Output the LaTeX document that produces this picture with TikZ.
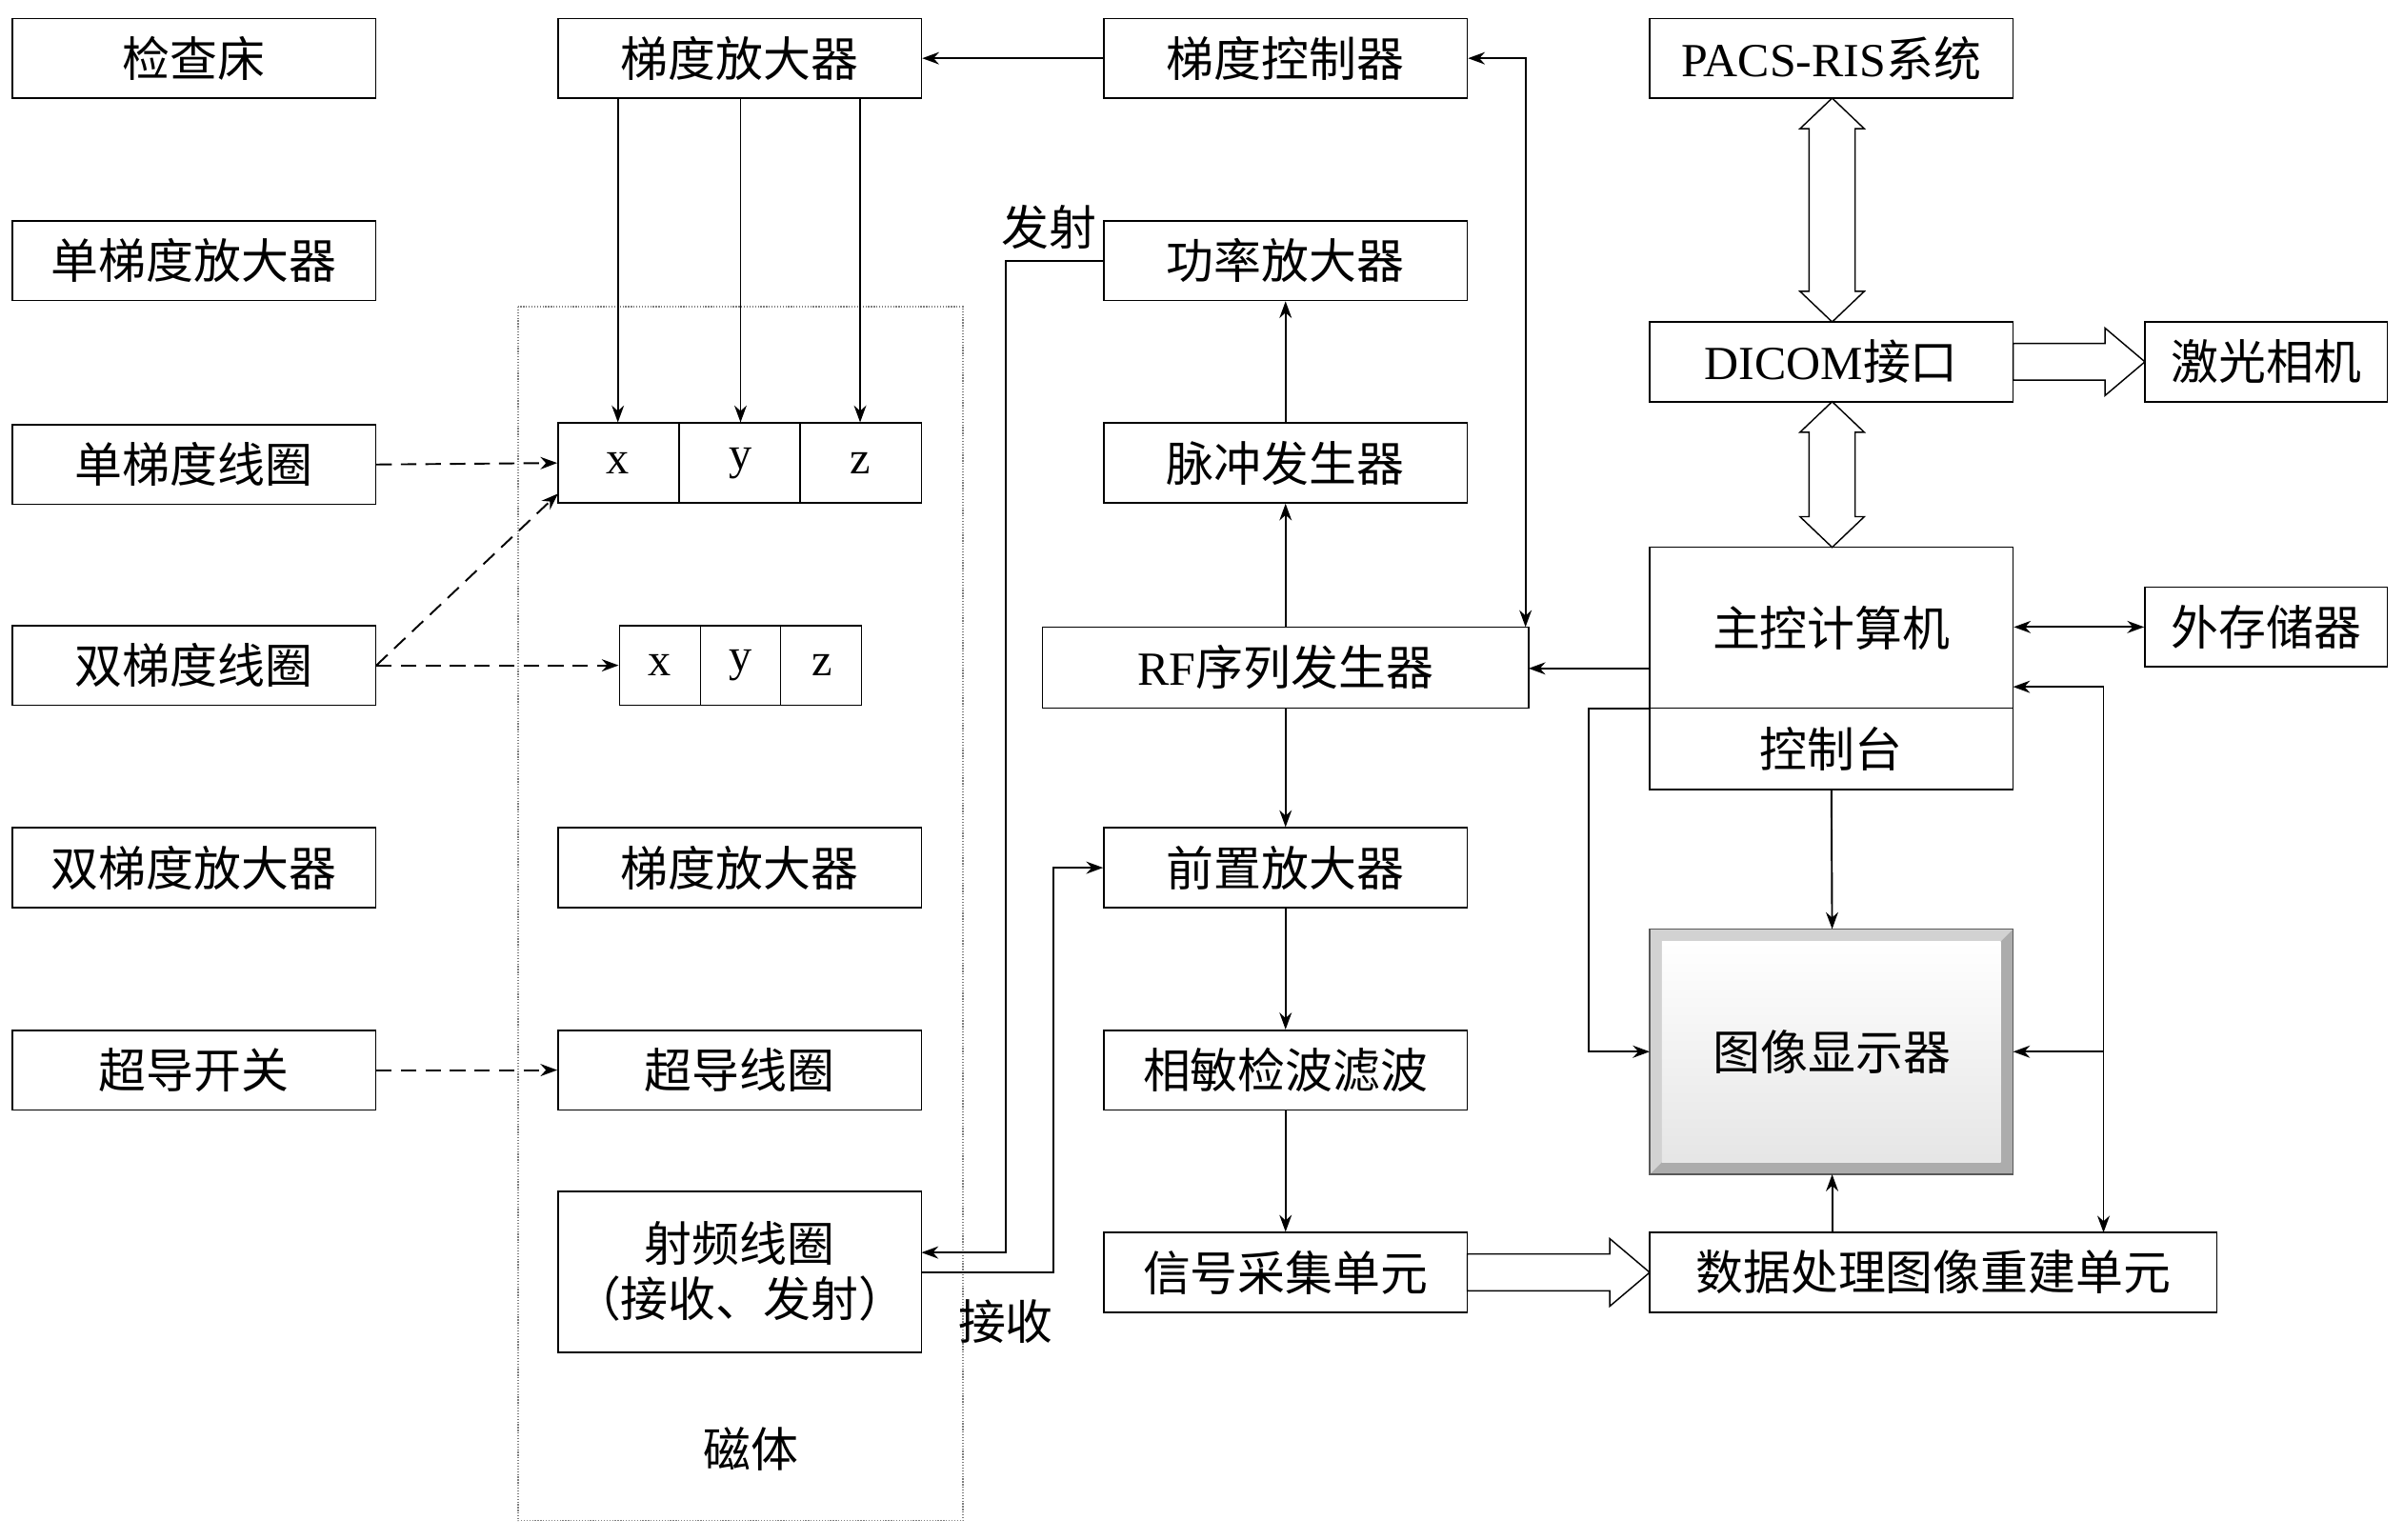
\documentclass[tikz,border=0pt]{standalone}
\usepackage{fontspec}
\setmainfont{Liberation Serif}
\newfontfamily\cjk{Noto Sans CJK SC}
\usetikzlibrary{arrows.meta,calc}
\begin{document}
\begin{tikzpicture}[x=1pt,y=-1pt,
  bx/.style={draw,line width=1pt,inner sep=0pt,font=\fontsize{31}{36}\selectfont\cjk},
  ar/.style={line width=1.2pt,-{Stealth[length=11pt,width=8pt]}},
  dar/.style={ar,dashed,dash pattern=on 10pt off 6pt},
  hol/.style={draw,line width=0.9pt,fill=white}]
\useasboundingbox (0,0) rectangle (1568,1004);
\newcommand{\B}[6]{\node[bx,minimum width=#4-#2,minimum height=#5-#3] (#1) at ({(#2+#4)/2},{(#3+#5)/2}) {#6};}
% left column
\B{jcc}{8}{12}{245}{64}{检查床}
\B{dtf}{8}{144}{245}{196}{单梯度放大器}
\B{dtx}{8}{277}{245}{329}{单梯度线圈}
\B{stx}{8}{408}{245}{460}{双梯度线圈}
\B{stf}{8}{540}{245}{592}{双梯度放大器}
\B{cdk}{8}{672}{245}{724}{超导开关}
% magnet box
\draw[gray,densely dotted,line width=0.8pt] (338,200) rectangle (628,992);
\node[font=\fontsize{31}{36}\selectfont\cjk] (ct) at (490,945) {磁体};
% column 2
\B{tdf}{364}{12}{601}{64}{梯度放大器}
\B{xyz}{364}{276}{601}{328}{}
\draw[line width=1pt] (443,276)--(443,328) (522,276)--(522,328);
\node[font=\fontsize{30}{34}\selectfont] (x1) at (403,302) {x};
\node[font=\fontsize{30}{34}\selectfont] (y1) at (483,302) {y};
\node[font=\fontsize{30}{34}\selectfont] (z1) at (561,302) {z};
\B{xyzb}{404}{408}{562}{460}{}
\draw[line width=1pt] (457,408)--(457,460) (509,408)--(509,460);
\node[font=\fontsize{30}{34}\selectfont] (x2) at (430,434) {x};
\node[font=\fontsize{30}{34}\selectfont] (y2) at (483,434) {y};
\node[font=\fontsize{30}{34}\selectfont] (z2) at (536,434) {z};
\B{tdf2}{364}{540}{601}{592}{梯度放大器}
\B{cdxq}{364}{672}{601}{724}{超导线圈}
\node[bx,minimum width=237,minimum height=105,align=center] (spxq) at (482.5,829.5) {射频线圈\\（接收、发射）};
% column 3
\B{tdk}{720}{12}{957}{64}{梯度控制器}
\B{glf}{720}{144}{957}{196}{功率放大器}
\B{mcf}{720}{276}{957}{328}{脉冲发生器}
\B{rf}{680}{409}{997}{462}{{\rmfamily RF}序列发生器}
\B{qzf}{720}{540}{957}{592}{前置放大器}
\B{xmj}{720}{672}{957}{724}{相敏检波滤波}
\B{xhc}{720}{804}{957}{856}{信号采集单元}
% column 4
\B{pacs}{1076}{12}{1313}{64}{{\rmfamily PACS-RIS}系统}
\B{dicom}{1076}{210}{1313}{262}{{\rmfamily DICOM}接口}
\B{jgxj}{1399}{210}{1557}{262}{激光相机}
\B{zk}{1076}{357}{1313}{462}{主控计算机}
\B{kzt}{1076}{462}{1313}{515}{控制台}
\B{wcc}{1399}{383}{1557}{435}{外存储器}
\B{sjcl}{1076}{804}{1446}{856}{数据处理图像重建单元}
% image display 3D
\fill[gray!65] (1076,606) rectangle (1313,766);
\fill[gray!35] (1076,606) -- (1313,606) -- (1305,614) -- (1084,614) -- (1084,758) -- (1076,766) -- cycle;
\shade[top color=white,bottom color=gray!20] (1084,614) rectangle (1305,758);
\draw[line width=0.8pt,gray!70!black] (1076,606) rectangle (1313,766);
\node[font=\fontsize{31}{36}\selectfont\cjk] (tx) at (1195,686) {图像显示器};
\coordinate (txl) at (1076,686); \coordinate (txr) at (1313,686);
\coordinate (txt) at (1195,606); \coordinate (txb) at (1195,766);
% arrows
\draw[ar] (tdk.west) -- (tdf.east);
\draw[ar] (tdf.south -| x1) -- (x1 |- xyz.north);
\draw[ar] (tdf.south -| y1) -- (y1 |- xyz.north);
\draw[ar] (tdf.south -| z1) -- (z1 |- xyz.north);
\draw[dar] (dtx.east) -- (xyz.west);
\draw[dar] (stx.east) -- (364,322);
\draw[dar] (stx.east) -- (xyzb.west);
\draw[dar] (cdk.east) -- (cdxq.west);
\draw[ar,{Stealth[length=11pt,width=8pt]}-{Stealth[length=11pt,width=8pt]}] (tdk.east) -- (995,38) -- (995,409);
\draw[ar] (mcf.north) -- (glf.south);
\draw[ar] (rf.north -| mcf) -- (mcf.south);
\draw[ar] (rf.south -| qzf) -- (qzf.north);
\draw[ar] (qzf.south) -- (xmj.north);
\draw[ar] (xmj.south) -- (xhc.north);
\draw[ar] (glf.west) -- (656,170) -- (656,817) -- (601,817);
\node[font=\fontsize{31}{36}\selectfont\cjk] (fs) at (684,148) {发射};
\draw[ar] (601,830) -- (687,830) -- (687,566) -- (qzf.west);
\node[font=\fontsize{31}{36}\selectfont\cjk] (js) at (656,862) {接收};
\draw[ar] (1076,436) -- (997,436);
\draw[ar,{Stealth[length=11pt,width=8pt]}-{Stealth[length=11pt,width=8pt]}] (zk.east |- wcc) -- (wcc.west);
\draw[ar] (kzt.south) -- (txt);
\draw[ar] (1076,462) -- (1036,462) -- (1036,686) -- (txl);
\draw[ar] (sjcl.north -| txb) -- (txb);
\draw[ar,{Stealth[length=11pt,width=8pt]}-{Stealth[length=11pt,width=8pt]}] (1313,448) -- (1372,448) -- (1372,804);
\draw[ar] (1372,686) -- (txr);
% hollow arrows
\draw[hol] (1195,64) -- (1216,84) -- (1210,84) -- (1210,190) -- (1216,190) -- (1195,210) -- (1174,190) -- (1180,190) -- (1180,84) -- (1174,84) -- cycle;
\draw[hol] (1195,262) -- (1216,282) -- (1210,282) -- (1210,337) -- (1216,337) -- (1195,357) -- (1174,337) -- (1180,337) -- (1180,282) -- (1174,282) -- cycle;
\draw[hol] (1313,224) -- (1373,224) -- (1373,214) -- (1399,236) -- (1373,258) -- (1373,248) -- (1313,248) -- cycle;
\draw[hol] (957,818) -- (1050,818) -- (1050,808) -- (1076,830) -- (1050,852) -- (1050,842) -- (957,842) -- cycle;
\end{tikzpicture}
\end{document}
